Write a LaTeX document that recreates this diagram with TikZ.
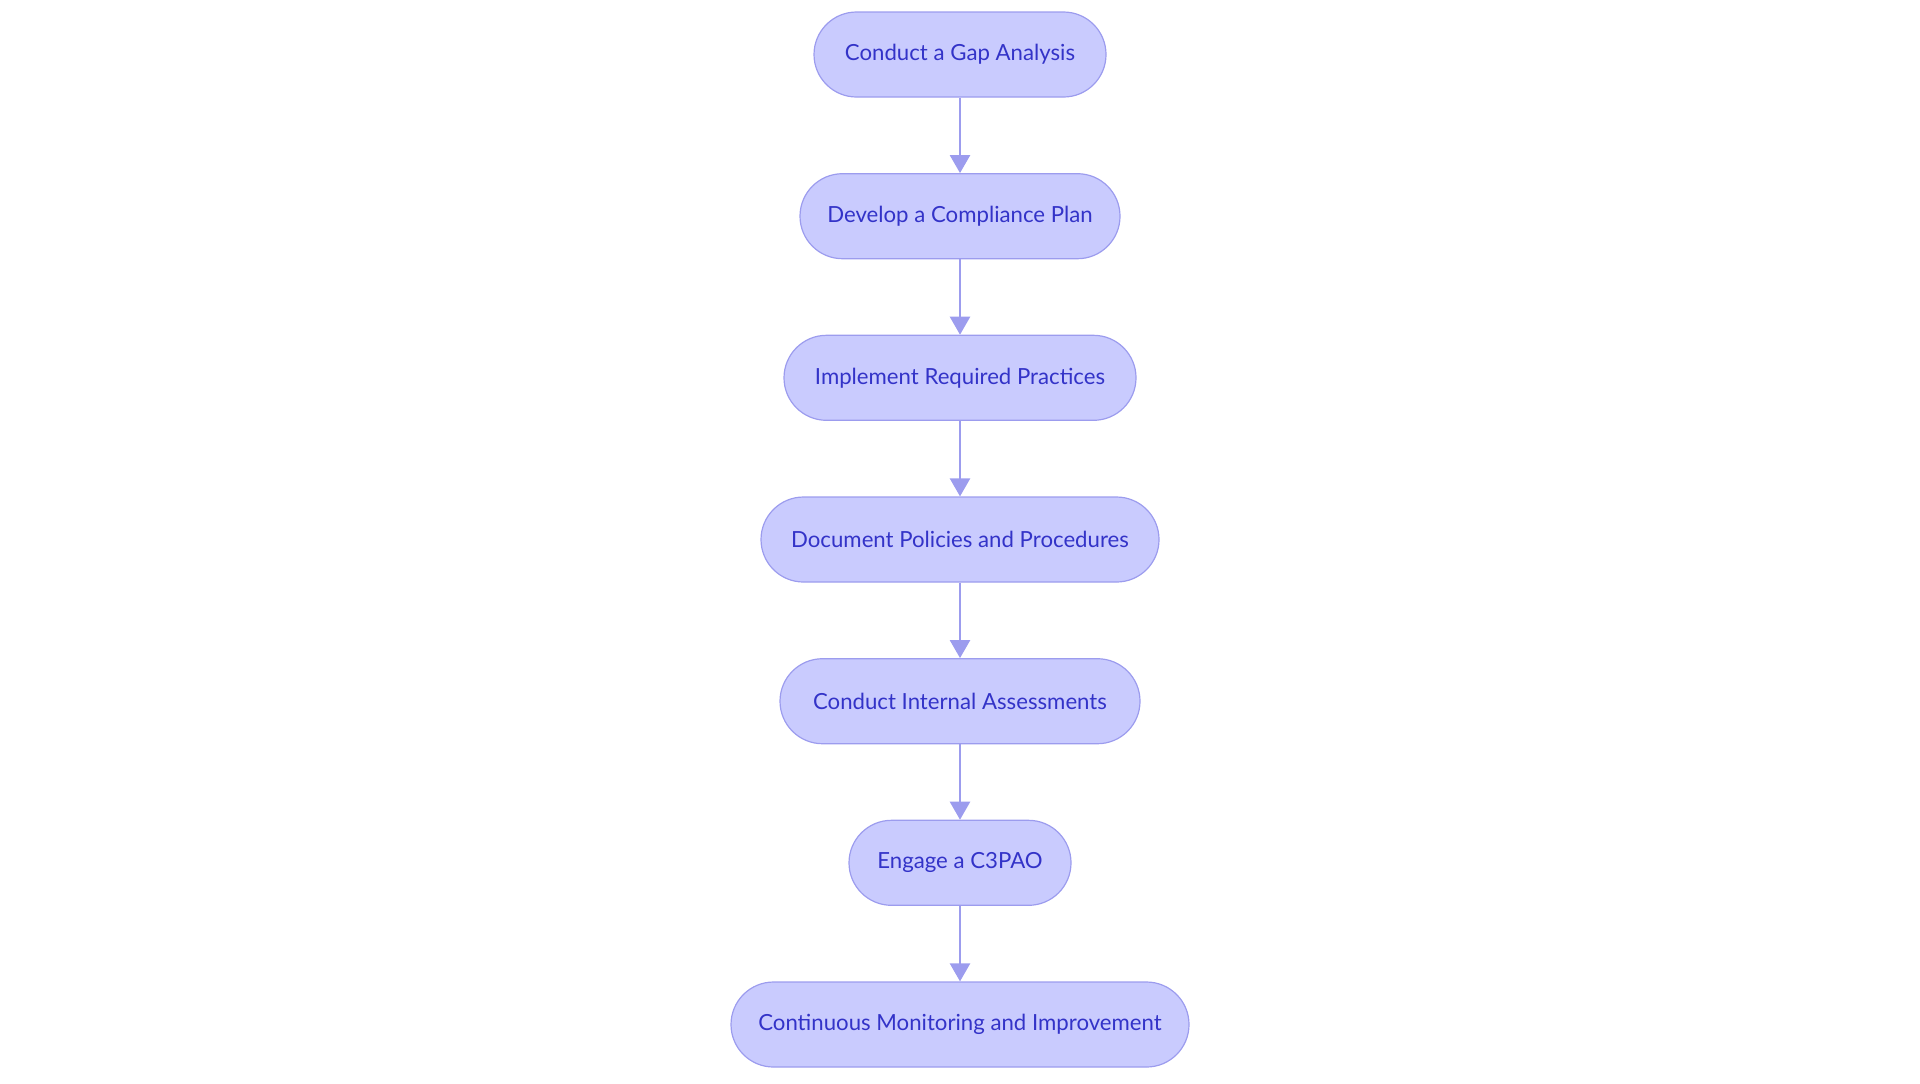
\documentclass[tikz,border=0pt]{standalone}
\usepackage{fontspec}
\setmainfont{Lato}
\usetikzlibrary{arrows.meta}
\definecolor{boxfill}{HTML}{C9CBFE}
\definecolor{boxline}{HTML}{9C9CEE}
\definecolor{boxtext}{HTML}{3333C8}
\definecolor{arrowcol}{HTML}{9C9CEE}
\tikzset{
  stepbox/.style={draw=boxline, fill=boxfill, line width=0.6pt, rounded corners=21.25pt,
    minimum height=42.5pt, inner sep=0pt, text=boxtext, font=\fontsize{11.1pt}{13pt}\selectfont},
  flow/.style={draw=arrowcol, line width=1.2pt, -{Triangle[width=10pt,length=9pt]}}
}
\begin{document}
\begin{tikzpicture}[x=0.5pt,y=-0.5pt]
\useasboundingbox (0,0) rectangle (1920,1083);
\node[stepbox, minimum width=146pt] (n1) at (960,54.5) {Conduct a Gap Analysis};
\node[stepbox, minimum width=160pt] (n2) at (960,216.2) {Develop a Compliance Plan};
\node[stepbox, minimum width=176pt] (n3) at (960,377.8) {Implement Required Practices};
\node[stepbox, minimum width=199pt] (n4) at (960,539.5) {Document Policies and Procedures};
\node[stepbox, minimum width=180pt] (n5) at (960,701.2) {Conduct Internal Assessments};
\node[stepbox, minimum width=111pt] (n6) at (960,862.8) {Engage a C3PAO};
\node[stepbox, minimum width=229pt] (n7) at (960,1024.5) {Continuous Monitoring and Improvement};
\draw[flow] (n1) -- (n2);
\draw[flow] (n2) -- (n3);
\draw[flow] (n3) -- (n4);
\draw[flow] (n4) -- (n5);
\draw[flow] (n5) -- (n6);
\draw[flow] (n6) -- (n7);
\end{tikzpicture}
\end{document}
